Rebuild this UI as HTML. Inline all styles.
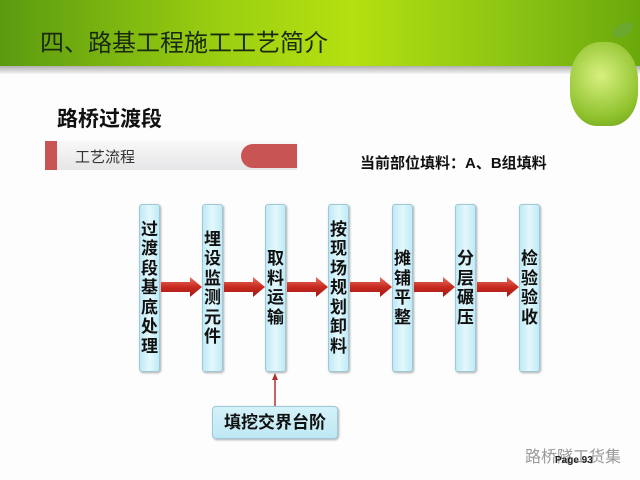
<!DOCTYPE html>
<html><head><meta charset="utf-8"><style>
*{margin:0;padding:0;box-sizing:border-box}
body{width:640px;height:480px;overflow:hidden;background:#fdfdfd;position:relative;font-family:"Liberation Sans","Noto Sans CJK SC",sans-serif}
.hdr{position:absolute;left:0;top:0;width:640px;height:66px;background:linear-gradient(90deg,#5a9a10 0%,#9cd010 35%,#b4e010 55%,#8cc414 80%,#6aa80c 100%)}
.shadow{position:absolute;left:0;top:66px;width:640px;height:8px;background:linear-gradient(#b0b0b0,#f4f4f4)}
.title{position:absolute;left:40px;top:23px;font-size:24px;color:#1a2a10}
.apple{position:absolute;left:570px;top:42px;width:68px;height:84px;border-radius:45% 45% 40% 40%;background:radial-gradient(circle at 45% 40%,#d8f080,#8cc02a 70%,#6a9a20)}
.leaf{position:absolute;left:612px;top:24px;width:22px;height:12px;border-radius:50%;background:#6aa830;transform:rotate(-30deg)}
.h2{position:absolute;left:57px;top:103px;font-size:21px;font-weight:bold;color:#111}
.bar{position:absolute;left:45px;top:141px;width:252px;height:29px;background:linear-gradient(#f8f8f8,#e6e6e8)}
.bar .l{position:absolute;left:0;top:0;width:12px;height:29px;background:#c85454}
.bar .r{position:absolute;right:0;top:3px;width:56px;height:24px;border-radius:12px 0 0 12px;background:#c85454}
.bar span{position:absolute;left:30px;top:5px;font-size:15px;color:#333}
.cur{position:absolute;left:360px;top:152px;font-size:15px;font-weight:bold;color:#111}
.box{position:absolute;top:204px;width:21px;height:168px;border-radius:3px;border:1px solid #9cc8d8;background:linear-gradient(90deg,#bfeaf6,#e4f8fc,#bfeaf6);box-shadow:1px 1px 2px #aaa;display:flex;align-items:center;justify-content:center;font-size:17px;font-weight:bold;color:#111;line-height:19.5px;text-align:center;word-break:break-all}
.bot{position:absolute;left:212px;top:406px;width:126px;height:33px;border-radius:4px;border:1px solid #9cc8d8;background:linear-gradient(#d4f2fa,#bfe8f4);box-shadow:1px 1px 2px #aaa;font-size:17px;font-weight:bold;text-align:center;line-height:31px;color:#111}
.wm{position:absolute;left:525px;top:443px;font-size:16px;color:#999}
.pg{position:absolute;left:555px;top:455px;font-size:10px;font-weight:bold;color:#222}
</style></head><body>
<div class="hdr"></div><div class="shadow"></div>
<div class="title">四、路基工程施工工艺简介</div>
<div class="apple"></div><div class="leaf"></div>
<div class="h2">路桥过渡段</div>
<div class="bar"><div class="l"></div><span>工艺流程</span><div class="r"></div></div>
<div class="cur">当前部位填料：A、B组填料</div>
<div class="box" style="left:139px">过<br>渡<br>段<br>基<br>底<br>处<br>理</div>
<div class="box" style="left:202px">埋<br>设<br>监<br>测<br>元<br>件</div>
<div class="box" style="left:265px">取<br>料<br>运<br>输</div>
<div class="box" style="left:328px">按<br>现<br>场<br>规<br>划<br>卸<br>料</div>
<div class="box" style="left:392px">摊<br>铺<br>平<br>整</div>
<div class="box" style="left:455px">分<br>层<br>碾<br>压</div>
<div class="box" style="left:519px">检<br>验<br>验<br>收</div>
<svg width="640" height="480" style="position:absolute;left:0;top:0">
<defs><linearGradient id="g" x1="0" y1="0" x2="0" y2="1"><stop offset="0" stop-color="#e87060"/><stop offset="0.5" stop-color="#c82a20"/><stop offset="1" stop-color="#a01810"/></linearGradient></defs>
<g fill="url(#g)">
<polygon points="161,282 190,282 190,277 202,287 190,297 190,292 161,292"/>
<polygon points="224,282 253,282 253,277 265,287 253,297 253,292 224,292"/>
<polygon points="287,282 316,282 316,277 328,287 316,297 316,292 287,292"/>
<polygon points="350,282 380,282 380,277 392,287 380,297 380,292 350,292"/>
<polygon points="414,282 443,282 443,277 455,287 443,297 443,292 414,292"/>
<polygon points="477,282 507,282 507,277 519,287 507,297 507,292 477,292"/>
</g>
<line x1="275" y1="406" x2="275" y2="378" stroke="#b03030" stroke-width="1.5"/>
<polygon points="275,373 272,380 278,380" fill="#b03030"/>
</svg>
<div class="bot">填挖交界台阶</div>
<div class="wm">路桥隧工货集</div>
<div class="pg">Page 93</div>
</body></html>
